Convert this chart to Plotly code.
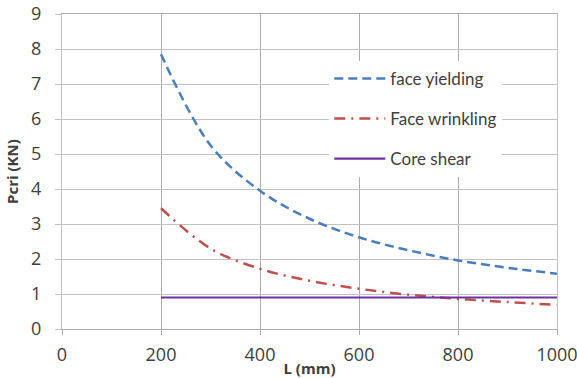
import plotly.graph_objects as go

# Span length L (mm)
L_mm = [200, 300, 400, 500, 600, 700, 800, 900, 1000]

# Critical load Pcri (KN) for each failure mode
face_yielding = [7.85, 5.25, 3.95, 3.15, 2.62, 2.25, 1.96, 1.75, 1.58]
face_wrinkling = [3.45, 2.30, 1.72, 1.38, 1.15, 0.98, 0.86, 0.77, 0.69]
core_shear = [0.9, 0.9, 0.9, 0.9, 0.9, 0.9, 0.9, 0.9, 0.9]

x_ticks = [0, 200, 400, 600, 800, 1000]
y_ticks = [0, 1, 2, 3, 4, 5, 6, 7, 8, 9]

TEXT = "#404040"
VGRID = "#adadad"
HGRID = "#c2c2c2"

fig = go.Figure()
fig.add_trace(go.Scatter(
    x=L_mm, y=face_yielding, mode="lines", name="face yielding",
    legendgroup="a", line=dict(color="#4A7EBB", width=2.5, dash="9px,5px"),
    line_shape="spline"))
fig.add_trace(go.Scatter(
    x=L_mm, y=face_wrinkling, mode="lines", name="Face wrinkling",
    legendgroup="b", line=dict(color="#C0504D", width=2.5, dash="11px,6px,2px,6px"),
    line_shape="spline"))
fig.add_trace(go.Scatter(
    x=L_mm, y=core_shear, mode="lines", name="Core shear",
    legendgroup="c", line=dict(color="#7030A0", width=2.2)))

fig.update_layout(
    width=577, height=378,
    margin=dict(l=62, r=20, t=14, b=49),
    paper_bgcolor="white", plot_bgcolor="white",
    font=dict(family="Open Sans", color=TEXT),
    showlegend=True,
    legend=dict(
        x=0.540, y=0.851, xanchor="left", yanchor="top",
        bgcolor="white", borderwidth=0,
        font=dict(family="Lato", size=17, color=TEXT),
        itemwidth=51, tracegroupgap=15,
    ),
)
fig.update_xaxes(
    range=[0, 1000], tickvals=x_ticks, ticktext=[str(v) for v in x_ticks],
    automargin=False, ticklabeloverflow="allow",
    showgrid=True, gridcolor=VGRID, gridwidth=1.3,
    zeroline=False, showline=True, linecolor=VGRID, linewidth=1.3, mirror=True,
    ticks="outside", ticklen=5, tickcolor=VGRID, tickwidth=1.3,
    tickfont=dict(size=18, color=TEXT), ticklabelstandoff=4,
    title=dict(text="<b>L (mm)</b>", font=dict(size=15, color=TEXT), standoff=0),
)
fig.update_yaxes(
    range=[0, 9], tickvals=y_ticks, ticktext=[str(v) for v in y_ticks],
    automargin=False, ticklabeloverflow="allow",
    showgrid=True, gridcolor=HGRID, gridwidth=1.3,
    zeroline=False, showline=True, linecolor=HGRID, linewidth=1.3, mirror=True,
    ticks="outside", ticklen=6, tickcolor=HGRID, tickwidth=1.3,
    tickfont=dict(size=18, color=TEXT), ticklabelstandoff=10,
    title=dict(text="<b>Pcri (KN)</b>", font=dict(size=15, color=TEXT), standoff=8),
)

fig.write_html("out.html")
